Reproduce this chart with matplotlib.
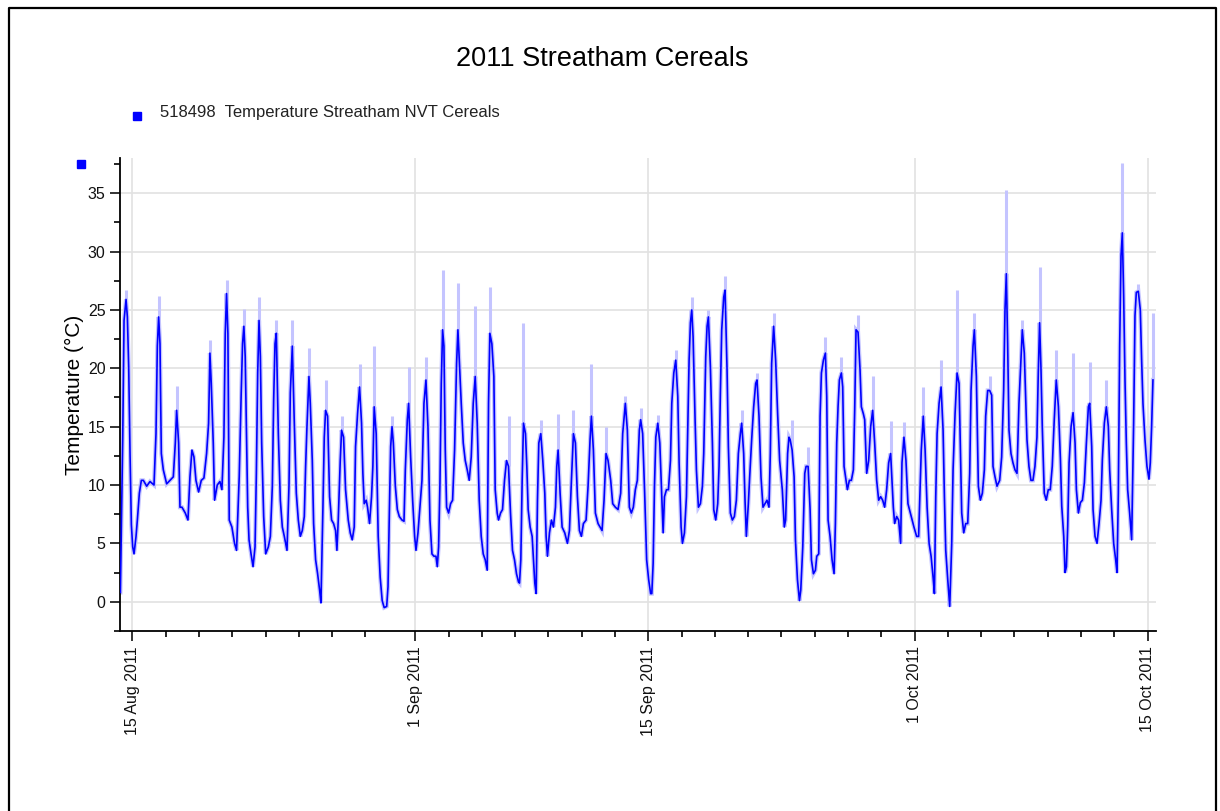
import datetime as dt
import matplotlib
matplotlib.use("Agg")
import matplotlib.pyplot as plt
import matplotlib.dates as mdates
from matplotlib.lines import Line2D
from matplotlib.ticker import MultipleLocator, FuncFormatter

plt.rcParams["font.family"] = ["Liberation Sans", "DejaVu Sans"]

# hourly-ish trace: days after 15 Aug 2011 00:00, temperature in degC
days = [
    -0.72, -0.58, -0.50, -0.38, -0.30, -0.22, -0.14, -0.06, 0.02, 0.10, 0.22, 0.30, 0.42, 0.54, 0.66, 0.86,
    1.06, 1.30, 1.42, 1.50, 1.58, 1.66, 1.74, 1.86, 2.06, 2.26, 2.46, 2.58, 2.66, 2.78, 2.86, 2.98,
    3.18, 3.34, 3.46, 3.58, 3.70, 3.82, 3.98, 4.14, 4.30, 4.46, 4.58, 4.66, 4.74, 4.86, 4.94, 5.10,
    5.26, 5.38, 5.50, 5.58, 5.66, 5.74, 5.82, 5.98, 6.14, 6.26, 6.34, 6.42, 6.54, 6.62, 6.70, 6.78,
    6.86, 6.93, 7.01, 7.13, 7.25, 7.37, 7.45, 7.53, 7.61, 7.69, 7.77, 7.89, 8.01, 8.17, 8.29, 8.41,
    8.49, 8.57, 8.65, 8.77, 8.89, 9.01, 9.13, 9.29, 9.41, 9.49, 9.61, 9.73, 9.85, 9.97, 10.09, 10.21,
    10.33, 10.41, 10.49, 10.61, 10.69, 10.81, 10.89, 11.01, 11.13, 11.25, 11.33, 11.45, 11.53, 11.61, 11.73, 11.85,
    11.97, 12.09, 12.21, 12.29, 12.37, 12.49, 12.57, 12.69, 12.81, 12.97, 13.09, 13.21, 13.33, 13.41, 13.53, 13.65,
    13.77, 13.85, 13.93, 14.05, 14.13, 14.25, 14.37, 14.45, 14.53, 14.65, 14.77, 14.89, 15.01, 15.13, 15.28, 15.36,
    15.44, 15.52, 15.60, 15.68, 15.80, 15.92, 16.04, 16.20, 16.32, 16.40, 16.52, 16.60, 16.72, 16.84, 16.96, 17.04,
    17.16, 17.28, 17.40, 17.52, 17.64, 17.76, 17.88, 18.00, 18.12, 18.24, 18.32, 18.40, 18.48, 18.56, 18.64, 18.72,
    18.80, 18.88, 19.00, 19.12, 19.24, 19.36, 19.48, 19.56, 19.64, 19.76, 19.88, 20.00, 20.12, 20.24, 20.36, 20.48,
    20.60, 20.72, 20.84, 20.96, 21.08, 21.20, 21.32, 21.40, 21.48, 21.60, 21.72, 21.80, 21.92, 22.00, 22.12, 22.24,
    22.36, 22.48, 22.60, 22.72, 22.84, 22.96, 23.08, 23.20, 23.26, 23.34, 23.42, 23.50, 23.62, 23.70, 23.78, 23.90,
    24.02, 24.10, 24.18, 24.26, 24.34, 24.42, 24.54, 24.66, 24.78, 24.86, 24.94, 25.06, 25.18, 25.30, 25.42, 25.50,
    25.58, 25.70, 25.82, 25.98, 26.14, 26.26, 26.38, 26.50, 26.62, 26.74, 26.86, 26.98, 27.10, 27.26, 27.38, 27.50,
    27.58, 27.70, 27.82, 27.98, 28.10, 28.22, 28.34, 28.46, 28.58, 28.74, 28.86, 29.02, 29.18, 29.34, 29.46, 29.62,
    29.74, 29.86, 29.98, 30.10, 30.22, 30.34, 30.46, 30.54, 30.66, 30.78, 30.90, 31.02, 31.14, 31.21, 31.29, 31.37,
    31.45, 31.57, 31.69, 31.81, 31.89, 31.97, 32.09, 32.21, 32.33, 32.41, 32.53, 32.65, 32.77, 32.85, 32.97, 33.05,
    33.17, 33.29, 33.37, 33.45, 33.53, 33.61, 33.69, 33.81, 33.89, 34.01, 34.13, 34.25, 34.33, 34.45, 34.53, 34.61,
    34.73, 34.85, 34.93, 35.05, 35.17, 35.25, 35.33, 35.41, 35.53, 35.61, 35.73, 35.81, 35.93, 36.05, 36.17, 36.29,
    36.41, 36.53, 36.61, 36.73, 36.81, 36.89, 37.01, 37.09, 37.21, 37.33, 37.45, 37.53, 37.65, 37.77, 37.89, 38.01,
    38.13, 38.25, 38.33, 38.41, 38.53, 38.65, 38.77, 38.89, 39.05, 39.17, 39.25, 39.37, 39.45, 39.52, 39.64, 39.76,
    39.84, 39.96, 40.08, 40.16, 40.28, 40.40, 40.48, 40.60, 40.72, 40.80, 40.92, 41.04, 41.12, 41.24, 41.32, 41.40,
    41.52, 41.64, 41.72, 41.80, 41.92, 42.04, 42.16, 42.24, 42.32, 42.40, 42.48, 42.60, 42.68, 42.76, 42.88, 42.96,
    43.08, 43.20, 43.32, 43.40, 43.48, 43.60, 43.72, 43.80, 43.92, 44.00, 44.12, 44.24, 44.36, 44.48, 44.60, 44.72,
    44.84, 44.96, 45.08, 45.20, 45.32, 45.44, 45.56, 45.64, 45.72, 45.80, 45.92, 46.04, 46.16, 46.24, 46.36, 46.48,
    46.60, 46.80, 46.96, 47.12, 47.24, 47.40, 47.52, 47.63, 47.75, 47.87, 47.99, 48.11, 48.19, 48.27, 48.35, 48.47,
    48.59, 48.71, 48.79, 48.87, 48.99, 49.11, 49.23, 49.31, 49.43, 49.55, 49.67, 49.75, 49.83, 49.95, 50.07, 50.19,
    50.31, 50.39, 50.51, 50.59, 50.71, 50.83, 50.95, 51.07, 51.19, 51.27, 51.39, 51.51, 51.63, 51.71, 51.83, 51.95,
    52.11, 52.23, 52.35, 52.43, 52.51, 52.59, 52.67, 52.79, 52.91, 53.03, 53.15, 53.27, 53.39, 53.47, 53.59, 53.67,
    53.75, 53.87, 53.99, 54.11, 54.23, 54.35, 54.43, 54.51, 54.59, 54.67, 54.79, 54.91, 55.03, 55.15, 55.27, 55.39,
    55.51, 55.64, 55.76, 55.84, 55.96, 56.04, 56.12, 56.20, 56.28, 56.40, 56.52, 56.64, 56.72, 56.84, 56.96, 57.08,
    57.20, 57.32, 57.44, 57.52, 57.64, 57.72, 57.84, 57.96, 58.08, 58.20, 58.28, 58.40, 58.52, 58.64, 58.72, 58.84,
    58.96, 59.08, 59.16, 59.24, 59.32, 59.40, 59.48, 59.56, 59.64, 59.72, 59.80, 59.92, 60.04, 60.16, 60.24, 60.32,
    60.44, 60.56, 60.64, 60.72, 60.84, 60.96, 61.08, 61.16, 61.24, 61.32,
]
temp_c = [
    0.8, 13.9, 24.1, 25.9, 24.4, 20.1, 12.7, 6.6, 4.7, 4.1, 5.6, 7.0, 9.3, 10.4, 10.4, 9.9,
    10.3, 10.0, 14.4, 21.9, 24.4, 22.1, 12.7, 11.3, 10.1, 10.4, 10.7, 13.6, 16.4, 13.6, 8.1, 8.1,
    7.6, 7.0, 10.7, 13.0, 12.4, 10.4, 9.4, 10.4, 10.6, 12.7, 15.3, 21.3, 18.7, 13.6, 8.7, 10.0,
    10.3, 9.6, 14.1, 23.0, 26.4, 23.0, 7.0, 6.4, 5.0, 4.4, 7.6, 10.7, 17.9, 22.1, 23.6, 21.0,
    14.4, 8.1, 5.3, 4.1, 3.0, 4.7, 11.0, 19.6, 24.1, 21.0, 13.6, 7.3, 4.1, 4.7, 5.6, 9.9,
    17.3, 22.1, 23.0, 14.4, 8.7, 6.4, 5.6, 4.4, 9.9, 17.9, 21.9, 15.3, 9.3, 7.0, 5.6, 6.1,
    7.3, 11.6, 15.0, 19.3, 17.0, 12.1, 6.7, 3.6, 2.4, 1.0, -0.1, 8.1, 14.1, 16.4, 15.9, 9.0,
    7.0, 6.7, 6.1, 4.4, 7.0, 12.1, 14.7, 14.1, 9.6, 7.0, 5.9, 5.3, 6.4, 13.3, 16.1, 18.4,
    15.3, 11.0, 8.4, 8.7, 8.1, 6.7, 9.0, 11.6, 16.7, 14.4, 5.6, 2.1, 0.1, -0.5, -0.4, 1.3,
    7.6, 13.3, 15.0, 13.6, 9.9, 7.9, 7.3, 7.0, 6.9, 11.3, 15.6, 17.0, 12.4, 8.7, 5.6, 4.4,
    5.9, 8.1, 10.4, 17.0, 19.0, 15.0, 7.0, 4.1, 3.9, 3.9, 3.0, 4.7, 10.1, 18.7, 23.3, 21.9,
    13.0, 8.1, 7.6, 8.4, 8.7, 13.0, 20.4, 23.3, 20.7, 17.0, 13.6, 12.1, 11.3, 10.4, 12.4, 17.0,
    19.3, 15.3, 8.7, 5.6, 4.1, 3.6, 2.7, 17.0, 23.0, 22.1, 19.3, 9.6, 7.6, 7.0, 7.6, 7.9,
    10.4, 12.1, 11.6, 7.6, 4.4, 3.6, 2.4, 1.7, 1.6, 3.6, 10.4, 15.3, 14.4, 11.6, 7.9, 6.4,
    5.6, 3.6, 1.6, 0.7, 8.7, 13.6, 14.4, 12.1, 9.3, 5.6, 3.9, 5.9, 7.0, 6.4, 8.1, 11.6,
    13.0, 9.3, 6.4, 5.9, 5.0, 6.1, 10.4, 14.4, 13.6, 9.0, 6.1, 5.6, 6.7, 7.0, 9.9, 13.9,
    15.9, 13.0, 7.6, 6.7, 6.4, 6.1, 8.7, 12.7, 12.1, 10.4, 8.4, 8.1, 7.9, 9.3, 14.4, 17.0,
    14.7, 8.1, 7.6, 8.1, 9.6, 10.4, 14.7, 15.6, 14.4, 9.3, 3.6, 1.9, 0.7, 0.7, 3.3, 9.9,
    14.1, 15.3, 13.6, 9.0, 5.9, 9.0, 9.6, 9.6, 12.1, 17.0, 19.6, 20.7, 17.6, 11.9, 6.4, 5.0,
    5.9, 9.0, 15.0, 20.7, 23.9, 25.0, 22.7, 15.6, 11.3, 8.1, 8.4, 9.9, 12.7, 21.0, 23.6, 24.4,
    20.1, 13.6, 7.9, 7.0, 8.4, 11.6, 17.9, 23.3, 26.1, 26.7, 19.9, 13.3, 7.6, 7.0, 7.3, 8.7,
    12.7, 14.4, 15.3, 12.7, 8.7, 5.6, 8.4, 10.7, 13.9, 16.7, 18.7, 19.0, 15.9, 10.7, 8.1, 8.4,
    8.7, 8.1, 12.7, 20.4, 23.6, 20.7, 16.1, 12.1, 9.6, 6.4, 7.0, 12.7, 14.1, 13.9, 13.0, 10.7,
    5.3, 1.9, 0.1, 1.0, 4.7, 11.0, 11.6, 11.6, 7.9, 3.6, 2.4, 2.7, 3.9, 4.1, 15.9, 19.6,
    20.7, 21.3, 17.6, 7.0, 5.6, 3.6, 2.4, 6.7, 13.6, 16.7, 19.0, 19.6, 18.4, 11.6, 10.4, 9.6,
    10.4, 10.4, 11.3, 16.4, 23.3, 23.1, 19.9, 16.7, 16.1, 15.6, 11.0, 12.1, 15.0, 16.4, 13.6, 10.4,
    8.7, 9.0, 8.7, 8.1, 9.6, 11.9, 12.7, 10.4, 8.1, 6.7, 7.3, 7.0, 5.0, 11.9, 14.1, 12.1,
    8.4, 7.3, 6.4, 5.6, 5.6, 13.0, 15.9, 13.0, 8.1, 5.0, 3.9, 2.1, 0.7, 9.0, 14.4, 17.0,
    18.4, 14.7, 9.0, 4.4, 1.9, -0.4, 5.0, 11.3, 16.1, 19.6, 18.7, 13.3, 7.6, 5.9, 6.7, 6.7,
    11.0, 18.1, 21.9, 23.3, 19.3, 9.9, 8.7, 9.3, 11.3, 15.9, 18.1, 18.1, 17.7, 11.6, 10.7, 9.9,
    10.4, 12.4, 18.1, 25.0, 28.1, 22.1, 14.7, 12.7, 11.9, 11.3, 11.0, 17.0, 20.7, 23.3, 21.3, 17.6,
    13.9, 11.6, 10.4, 10.4, 11.6, 14.1, 19.6, 23.9, 20.1, 15.0, 9.3, 8.7, 9.6, 9.6, 11.6, 15.6,
    19.0, 16.7, 12.2, 8.2, 5.6, 2.5, 3.0, 6.5, 11.9, 15.0, 16.2, 13.6, 9.6, 7.6, 8.5, 8.7,
    10.2, 13.6, 16.7, 17.0, 13.3, 7.9, 5.6, 5.0, 6.7, 8.7, 12.2, 15.3, 16.7, 15.0, 11.3, 7.9,
    5.0, 3.6, 2.5, 9.3, 21.9, 29.6, 31.6, 26.2, 19.0, 13.6, 9.6, 7.6, 5.3, 15.3, 24.5, 26.5,
    26.6, 25.0, 20.7, 17.0, 13.9, 11.6, 10.5, 11.9, 15.0, 19.0,
]

# short-lived maxima drawn in pale blue above the daily peaks
spike_days = [-0.38, 1.58, 2.66, 4.66, 5.66, 6.70, 7.61, 8.65, 9.61, 10.61, 11.61, 12.57, 13.65, 14.53,
              15.60, 16.60, 17.64, 18.64, 19.56, 20.60, 21.48, 22.60, 23.50, 24.54, 25.58, 26.50, 27.58,
              28.46, 29.62, 30.54, 31.57, 32.65, 33.61, 34.61, 35.61, 36.61, 37.53, 38.53, 39.64, 40.60,
              41.64, 42.60, 43.60, 44.48, 45.56, 46.36, 47.52, 48.59, 49.55, 50.59, 51.51, 52.51, 53.47,
              54.51, 55.52, 56.52, 57.52, 58.52, 59.48, 60.44, 61.32]
spike_lo = [25.9, 24.4, 16.4, 21.3, 26.4, 23.6, 24.1, 23.0, 21.9, 19.3, 16.4, 14.7, 18.4, 16.7,
            15.0, 17.0, 19.0, 23.3, 23.3, 19.3, 23.0, 11.6, 15.3, 14.4, 13.0, 14.4, 15.9,
            12.7, 17.0, 15.6, 15.3, 20.7, 25.0, 24.4, 26.7, 15.3, 19.0, 23.6, 13.0, 11.6,
            21.3, 19.6, 23.1, 16.4, 12.7, 14.1, 15.9, 18.4, 19.6, 23.3, 18.1, 28.1, 23.3,
            23.9, 19.0, 16.2, 17.0, 16.7, 31.6, 26.6, 19.0]
spike_hi = [26.7, 26.2, 18.5, 22.4, 27.6, 25.1, 26.1, 24.1, 24.1, 21.7, 19.0, 15.9, 20.4, 21.9,
            15.9, 20.1, 21.0, 28.4, 27.3, 25.3, 27.0, 15.9, 23.9, 15.6, 16.1, 16.4, 20.4,
            15.0, 17.6, 16.6, 16.0, 21.6, 26.1, 25.0, 27.9, 16.4, 19.6, 24.7, 15.6, 13.3,
            22.7, 21.0, 24.6, 19.3, 15.5, 15.4, 18.4, 20.7, 26.7, 24.7, 19.3, 35.3, 24.1,
            28.7, 21.6, 21.3, 20.5, 19.0, 37.6, 27.2, 24.7]

TITLE = "2011 Streatham Cereals"
SERIES = "518498  Temperature Streatham NVT Cereals"
BLUE, PALE = "#0000ff", "#c4c4ff"

base = mdates.date2num(dt.datetime(2011, 8, 15))
t = [base + d for d in days]
ts = [base + d for d in spike_days]

fig = plt.figure(figsize=(12.2, 8.11), dpi=100)
ax = fig.add_axes([0.0984, 0.222, 0.8491, 0.583])

ax.plot(t, temp_c, color=PALE, lw=3.0, solid_joinstyle="miter", zorder=2)
ax.vlines(ts, spike_lo, spike_hi, color=PALE, lw=2.2, zorder=2)
ax.plot(t, temp_c, color=BLUE, lw=1.2, zorder=3)

ax.set_xlim(base - 0.74, base + 61.5)
ax.set_ylim(-2.5, 38.0)

ax.xaxis.set_major_locator(mdates.DayLocator(bymonthday=[1, 15]))
ax.xaxis.set_minor_locator(mdates.DayLocator(bymonthday=list(range(3, 30, 2))))
ax.xaxis.set_major_formatter(FuncFormatter(
    lambda x, _: (lambda d: f"{d.day} {d:%b %Y}")(mdates.num2date(x))))
ax.yaxis.set_major_locator(MultipleLocator(5))
ax.yaxis.set_minor_locator(MultipleLocator(2.5))

for lab in ax.get_xticklabels():
    lab.set_rotation(90)
ax.tick_params(axis="both", which="major", length=7, width=1.2, labelsize=11.5, colors="#111111")
ax.tick_params(axis="both", which="minor", length=4, width=1.2)
ax.tick_params(axis="x", which="major", pad=4)

ax.grid(True, which="major", color="#e2e2e2", lw=1.2, zorder=0)
ax.set_axisbelow(True)
for s in ("top", "right"):
    ax.spines[s].set_visible(False)
for s in ("left", "bottom"):
    ax.spines[s].set_linewidth(1.3)

ax.set_ylabel("Temperature (°C)", fontsize=15, labelpad=3)

fig.text(0.494, 1 - 59 / 811, TITLE, ha="center", va="center", fontsize=19.5)
fig.add_artist(Line2D([137 / 1220], [1 - 116 / 811], marker="s", ms=6, color=BLUE,
                      transform=fig.transFigure))
fig.text(160 / 1220, 1 - 113 / 811, SERIES, ha="left", va="center", fontsize=12, color="#222222")
fig.add_artist(Line2D([81 / 1220], [1 - 164 / 811], marker="s", ms=6, color=BLUE,
                      transform=fig.transFigure))

# outer frame of the chart control
fig.add_artist(Line2D([9 / 1220, 9 / 1220, 1216 / 1220, 1216 / 1220],
                      [0, 1 - 8 / 811, 1 - 8 / 811, 0], color="black", lw=1.6,
                      transform=fig.transFigure))

fig.savefig("out.png", dpi=100)
